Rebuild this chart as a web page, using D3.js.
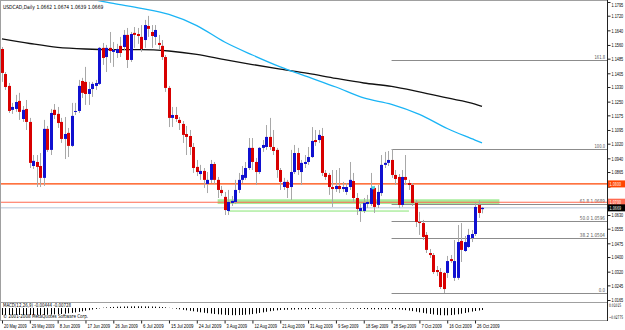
<!DOCTYPE html>
<html>
<head>
<meta charset="utf-8">
<script src="https://cdn.jsdelivr.net/npm/d3@7"></script>
<style>
  body { margin: 0; background: #fff; }
  svg { display: block; font-family: "Liberation Sans Narrow", "DejaVu Sans Condensed", "Liberation Sans", Arial, sans-serif; }
</style>
</head>
<body>
<svg id="chart" width="625" height="330"></svg>
<script>
// USDCAD daily, 20 May 2009 .. 28 Oct 2009 (broker with Sunday bars)
const symbolTitle = "USDCAD,Daily  1.0662 1.0674 1.0639 1.0669";
const indTitle = "MACD(12,26,9) -0.00444 -0.00728";
const copyright = "\u00a9 2001-2008 MetaQuotes Software Corp.";

// open, high, low, close
const ohlc = [
  [1.1538,1.1549,1.1358,1.1407],[1.1401,1.1412,1.1314,1.1330],[1.1336,1.1352,1.1188,1.1199],[1.1205,1.1243,1.1183,1.1221],
  [1.1210,1.1287,1.1194,1.1248],[1.1254,1.1298,1.1150,1.1194],[1.1155,1.1226,1.1139,1.1205],[1.1210,1.1259,1.1095,1.1139],
  [1.1139,1.1161,1.0887,1.0915],[1.0898,1.0958,1.0882,1.0926],[1.0920,1.0958,1.0783,1.0893],[1.0898,1.0969,1.0783,1.0833],
  [1.0833,1.1150,1.0789,1.1101],[1.1101,1.1117,1.0975,1.0986],[1.0986,1.1210,1.0958,1.1188],[1.1205,1.1237,1.1155,1.1177],
  [1.1183,1.1221,1.1106,1.1133],[1.1139,1.1161,1.1024,1.1046],[1.1046,1.1166,1.0936,1.1073],[1.1079,1.1106,1.0947,1.1008],
  [1.1008,1.1243,1.1002,1.1172],[1.1194,1.1243,1.1177,1.1199],[1.1199,1.1369,1.1188,1.1336],[1.1363,1.1380,1.1270,1.1298],
  [1.1358,1.1440,1.1232,1.1292],[1.1292,1.1358,1.1232,1.1319],[1.1319,1.1358,1.1276,1.1347],[1.1336,1.1369,1.1314,1.1352],
  [1.1347,1.1549,1.1341,1.1544],[1.1544,1.1571,1.1451,1.1489],[1.1494,1.1560,1.1412,1.1544],[1.1544,1.1631,1.1462,1.1527],
  [1.1522,1.1576,1.1440,1.1533],[1.1516,1.1566,1.1489,1.1538],[1.1555,1.1604,1.1494,1.1516],[1.1549,1.1642,1.1533,1.1615],
  [1.1615,1.1653,1.1434,1.1478],[1.1478,1.1631,1.1467,1.1620],[1.1626,1.1658,1.1544,1.1615],[1.1620,1.1653,1.1566,1.1609],
  [1.1604,1.1669,1.1522,1.1538],[1.1587,1.1697,1.1544,1.1669],[1.1664,1.1719,1.1604,1.1648],[1.1631,1.1669,1.1544,1.1609],
  [1.1604,1.1669,1.1560,1.1642],[1.1571,1.1615,1.1533,1.1560],[1.1555,1.1587,1.1478,1.1494],[1.1494,1.1505,1.1303,1.1325],
  [1.1325,1.1336,1.1111,1.1161],[1.1161,1.1221,1.1111,1.1177],[1.1177,1.1221,1.1139,1.1155],[1.1150,1.1166,1.1095,1.1133],
  [1.1128,1.1144,1.1024,1.1068],[1.1073,1.1117,1.0958,1.1057],[1.1062,1.1095,1.0958,1.1002],[1.1002,1.1024,1.0860,1.0887],
  [1.0893,1.0931,1.0843,1.0865],[1.0854,1.0904,1.0822,1.0871],[1.0871,1.0887,1.0778,1.0822],[1.0800,1.0865,1.0750,1.0822],
  [1.0822,1.0931,1.0805,1.0909],[1.0909,1.0920,1.0800,1.0822],[1.0822,1.0838,1.0723,1.0767],[1.0767,1.0789,1.0734,1.0750],
  [1.0729,1.0756,1.0630,1.0657],[1.0652,1.0767,1.0630,1.0701],[1.0696,1.0734,1.0679,1.0707],[1.0701,1.0822,1.0690,1.0767],
  [1.0767,1.0860,1.0750,1.0822],[1.0822,1.0898,1.0805,1.0849],[1.0833,1.0920,1.0822,1.0887],[1.0887,1.1051,1.0876,1.0997],
  [1.0997,1.1051,1.0876,1.0920],[1.0920,1.0942,1.0794,1.0865],[1.0865,1.1002,1.0854,1.0997],[1.0997,1.1040,1.0975,1.1013],
  [1.1002,1.1122,1.0986,1.1057],[1.1057,1.1161,1.0986,1.1002],[1.1002,1.1095,1.0958,1.0980],[1.0986,1.0997,1.0833,1.0876],
  [1.0876,1.0887,1.0767,1.0811],[1.0783,1.0833,1.0767,1.0811],[1.0811,1.0822,1.0723,1.0778],[1.0783,1.0986,1.0712,1.0865],
  [1.0865,1.1013,1.0854,1.0969],[1.0969,1.0997,1.0849,1.0876],[1.0865,1.0931,1.0794,1.0915],[1.0909,1.0958,1.0887,1.0920],
  [1.0920,1.1002,1.0904,1.0947],[1.0947,1.1111,1.0942,1.1035],[1.1040,1.1095,1.1008,1.1029],[1.1040,1.1095,1.1024,1.1068],
  [1.1062,1.1106,1.0843,1.0860],[1.0860,1.0876,1.0822,1.0838],[1.0849,1.0860,1.0740,1.0783],[1.0783,1.0876,1.0674,1.0772],
  [1.0772,1.0876,1.0756,1.0789],[1.0789,1.0887,1.0750,1.0772],[1.0772,1.0811,1.0756,1.0783],[1.0756,1.0805,1.0740,1.0783],
  [1.0783,1.0920,1.0767,1.0822],[1.0816,1.0860,1.0701,1.0723],[1.0723,1.0750,1.0630,1.0663],[1.0652,1.0690,1.0592,1.0668],
  [1.0652,1.0723,1.0641,1.0696],[1.0690,1.0740,1.0668,1.0701],[1.0690,1.0860,1.0679,1.0778],[1.0778,1.0789,1.0641,1.0674],
  [1.0685,1.0794,1.0668,1.0756],[1.0750,1.0958,1.0734,1.0904],[1.0904,1.0975,1.0887,1.0915],[1.0915,1.0980,1.0898,1.0931],
  [1.0931,1.0990,1.0833,1.0849],[1.0849,1.0876,1.0794,1.0827],[1.0838,1.0854,1.0668,1.0685],[1.0685,1.0876,1.0674,1.0838],
  [1.0838,1.0958,1.0794,1.0822],[1.0805,1.0822,1.0767,1.0794],[1.0794,1.0805,1.0679,1.0696],[1.0696,1.0712,1.0564,1.0592],
  [1.0592,1.0647,1.0521,1.0586],[1.0586,1.0603,1.0493,1.0510],[1.0521,1.0537,1.0422,1.0439],[1.0422,1.0444,1.0395,1.0411],
  [1.0411,1.0422,1.0307,1.0318],[1.0329,1.0351,1.0296,1.0318],[1.0318,1.0340,1.0225,1.0236],[1.0313,1.0318,1.0203,1.0225],
  [1.0313,1.0406,1.0286,1.0378],[1.0389,1.0411,1.0368,1.0378],[1.0286,1.0493,1.0269,1.0378],[1.0286,1.0575,1.0275,1.0482],
  [1.0488,1.0586,1.0373,1.0439],[1.0433,1.0515,1.0428,1.0482],[1.0455,1.0554,1.0450,1.0521],[1.0504,1.0548,1.0482,1.0526],
  [1.0526,1.0696,1.0515,1.0674],[1.0685,1.0712,1.0614,1.0641],[1.0662,1.0674,1.0639,1.0669]
];

// moving averages, read at every 8th bar
const maIdx = [0, 8, 16, 24, 32, 40, 48, 56, 64, 72, 80, 88, 96, 104, 112, 120, 128, 136, 138];
const maBlack = [1.1593, 1.1568, 1.1547, 1.1538, 1.1535, 1.1535, 1.1527, 1.1508, 1.1480, 1.1453, 1.1428, 1.1404, 1.1377, 1.1352, 1.1333, 1.1303, 1.1270, 1.1237, 1.1224];
const maBlue  = [null, null, null, 1.1817, 1.1787, 1.1760, 1.1727, 1.1666, 1.1576, 1.1505, 1.1440, 1.1385, 1.1330, 1.1270, 1.1235, 1.1180, 1.1103, 1.1040, 1.1024];

// MACD histogram, one per bar
const macd = [
  -0.0175,-0.0175,-0.0175,-0.0175,-0.0175,-0.0175,-0.0175,-0.0175,-0.0175,-0.0175,-0.0175,-0.0175,
  -0.0175,-0.0170,-0.0165,-0.0160,-0.0155,-0.0150,-0.0143,
  -0.0133,-0.0123,-0.0110,-0.0098,-0.0083,-0.0068,-0.0053,-0.0038,-0.0023,-0.0010,
  0.0008,0.0015,0.0023,0.0028,0.0033,0.0035,0.0038,0.0040,0.0040,0.0043,0.0043,0.0043,0.0040,0.0040,0.0038,0.0035,0.0030,0.0025,0.0018,
  0.0005,-0.0008,-0.0020,-0.0033,-0.0045,-0.0058,-0.0070,-0.0083,-0.0095,-0.0108,-0.0120,-0.0130,-0.0140,-0.0150,-0.0158,-0.0165,-0.0173,-0.0178,-0.0180,-0.0180,-0.0178,-0.0175,-0.0170,
  -0.0163,-0.0153,-0.0140,-0.0125,-0.0110,-0.0095,-0.0080,-0.0068,-0.0058,-0.0050,
  -0.0045,-0.0043,-0.0040,-0.0038,-0.0035,-0.0033,-0.0030,-0.0028,-0.0025,-0.0023,-0.0020,-0.0018,-0.0015,-0.0013,-0.0013,
  -0.0013,-0.0013,-0.0013,-0.0015,-0.0015,-0.0018,-0.0020,-0.0023,-0.0025,-0.0028,-0.0030,-0.0033,-0.0033,-0.0033,-0.0030,
  -0.0028,-0.0028,-0.0030,-0.0035,-0.0043,-0.0053,-0.0065,-0.0078,-0.0093,-0.0108,-0.0123,-0.0138,-0.0150,-0.0163,
  -0.0173,-0.0180,-0.0183,-0.0183,-0.0178,-0.0170,-0.0158,-0.0143,-0.0125,-0.0108,-0.0090,-0.0075,-0.0063,-0.0050
];

const priceTicks = [1.1795, 1.1720, 1.1640, 1.1560, 1.1485, 1.1405, 1.1330, 1.1250, 1.1175, 1.1095, 1.1020, 1.0940,
                    1.0865, 1.0785, 1.0710, 1.0630, 1.0555, 1.0475, 1.0400, 1.0320, 1.0245, 1.0165];
const macdTicks = [0.01015, -0.02775];

const dateIdx = [0, 8, 16, 24, 32, 40, 48, 56, 64, 72, 80, 88, 96, 104, 112, 120, 128, 136];
const dateLabels = ["20 May 2009", "29 May 2009", "8 Jun 2009", "17 Jun 2009", "26 Jun 2009", "6 Jul 2009",
  "15 Jul 2009", "24 Jul 2009", "3 Aug 2009", "12 Aug 2009", "21 Aug 2009", "31 Aug 2009", "9 Sep 2009",
  "18 Sep 2009", "28 Sep 2009", "7 Oct 2009", "16 Oct 2009", "26 Oct 2009"];

// objects drawn on the chart
const hLines = [1.0800, 1.0700];
const bid = 1.0669;
const zoneMain = {i0: 62, i1: 143, p0: 1.0690, p1: 1.0716};
const zoneLow  = {i0: 65, i1: 117, p0: 1.0647, p1: 1.0656};
const fibHigh = {i: 112, p: 1.0990};
const fibLow  = {i: 127, p: 1.0203};
const fibLevels = [0, 0.382, 0.5, 0.618, 1, 1.618];
const marker = {i: 106.7, p: 1.0779};

const W = 625, H = 330;
const plot = {left: 1, right: 607, top: 1, bottom: 302};
const sub = {top: 303, bottom: 320};
const FS = 5.4;

const svg = d3.select("#chart");

// narrow the text about its anchor x when the font runs wider than the terminal one
function fitTo(sel, perChar) {
  sel.each(function() {
    const len = this.getComputedTextLength();
    const max = this.textContent.length * perChar;
    if (len > max) {
      const k = max / len;
      const a = +this.getAttribute("x") || 0;
      d3.select(this).attr("transform", `matrix(${k},0,0,1,${a * (1 - k)},0)`);
    }
  });
}

const x = d3.scaleLinear().domain([0, 138]).range([2, 482]);
const y = d3.scaleLinear().domain([1.0165, 1.1795]).range([300, 2]);
const ym = d3.scaleLinear().domain([-0.02775, 0.01015]).range([319, 304]);

svg.append("rect").attr("width", W).attr("height", H).attr("fill", "#fff");

svg.append("clipPath").attr("id", "clipMain")
  .append("rect").attr("x", plot.left).attr("y", plot.top)
  .attr("width", plot.right - plot.left).attr("height", plot.bottom - plot.top);

const main = svg.append("g").attr("clip-path", "url(#clipMain)");

// green zones
[zoneMain, zoneLow].forEach((z, k) => {
  main.append("rect")
    .attr("x", x(z.i0)).attr("width", x(z.i1) - x(z.i0))
    .attr("y", y(z.p1)).attr("height", y(z.p0) - y(z.p1))
    .attr("fill", k === 0 ? "#a6ec9a" : "#b6f0aa");
});

// fibo levels
const fibRange = fibHigh.p - fibLow.p;
fibLevels.forEach(l => {
  const p = fibLow.p + l * fibRange;
  main.append("line")
    .attr("x1", x(fibHigh.i)).attr("x2", plot.right)
    .attr("y1", Math.round(y(p)) + 0.5).attr("y2", Math.round(y(p)) + 0.5)
    .attr("stroke", "#8c8c8c").attr("stroke-width", 1);
  const txt = (l * 100).toFixed(1) + (l > 0 && l < 1 ? "  " + p.toFixed(4) : "");
  main.append("text")
    .attr("x", plot.right - 2).attr("y", y(p) - 1.5)
    .attr("text-anchor", "end").attr("font-size", FS).attr("fill", "#555")
    .text(txt).call(fitTo, 2.1);
});

// horizontal lines
hLines.forEach((p, k) => {
  main.append("line")
    .attr("x1", plot.left).attr("x2", plot.right)
    .attr("y1", y(p)).attr("y2", y(p))
    .attr("stroke", k === 0 ? "#ff4500" : "#ff6a50").attr("stroke-width", k === 0 ? 1.4 : 1.1);
});
main.append("line")
  .attr("x1", plot.left).attr("x2", plot.right)
  .attr("y1", y(bid)).attr("y2", y(bid))
  .attr("stroke", "#b4c4d8").attr("stroke-width", 1);

// moving averages
const maLine = vals => d3.line()
  .defined(d => d[1] != null)
  .x(d => x(d[0])).y(d => y(d[1]))
  .curve(d3.curveMonotoneX)(maIdx.map((i, k) => [i, vals[k]]));

main.append("path").attr("d", maLine(maBlack))
  .attr("fill", "none").attr("stroke", "#111").attr("stroke-width", 1.3);
main.append("path").attr("d", maLine(maBlue))
  .attr("fill", "none").attr("stroke", "#1ab4f5").attr("stroke-width", 1.3);

// candles
const candles = main.append("g");
candles.selectAll("line.wick").data(ohlc).join("line")
  .attr("class", "wick")
  .attr("x1", (d, i) => Math.round(x(i)) + 0.5).attr("x2", (d, i) => Math.round(x(i)) + 0.5)
  .attr("y1", d => y(d[1])).attr("y2", d => y(d[2]))
  .attr("stroke", "#a8a8a8").attr("stroke-width", 1);

candles.selectAll("rect.body").data(ohlc).join("rect")
  .attr("class", "body")
  .attr("x", (d, i) => Math.round(x(i)) - 1)
  .attr("width", 3)
  .attr("y", d => y(Math.max(d[0], d[3])))
  .attr("height", d => Math.max(1, Math.abs(y(d[0]) - y(d[3]))))
  .attr("fill", d => d[3] >= d[0] ? "#1010d0" : "#d80000");

main.append("rect")
  .attr("x", x(marker.i) - 1.5).attr("y", y(marker.p) - 1.5)
  .attr("width", 3).attr("height", 3).attr("fill", "#33dde8");

// frame
const frame = svg.append("g").attr("stroke", "#a0a0a0").attr("stroke-width", 1).attr("fill", "none");
frame.append("line").attr("x1", 0).attr("x2", plot.right + 0.5).attr("y1", 0.5).attr("y2", 0.5);
frame.append("line").attr("x1", 0.5).attr("x2", 0.5).attr("y1", 0).attr("y2", sub.bottom);
frame.append("line").attr("x1", 0).attr("x2", plot.right).attr("y1", plot.bottom + 0.5).attr("y2", plot.bottom + 0.5);
frame.append("line").attr("x1", 0).attr("x2", plot.right).attr("y1", sub.bottom + 0.5).attr("y2", sub.bottom + 0.5);
svg.append("line").attr("x1", plot.right + 0.5).attr("x2", plot.right + 0.5)
  .attr("y1", 0).attr("y2", sub.bottom + 1).attr("stroke", "#222");

// price tags for lines
const tags = [
  {p: hLines[0], bg: "#ff4500"},
  {p: hLines[1], bg: "#ff6a50"},
  {p: bid, bg: "#000"}
];

// price axis (labels hidden where a tag sits on top)
const yAxis = svg.append("g")
  .attr("transform", `translate(${plot.right + 0.5},0)`)
  .call(d3.axisRight(y).tickValues(priceTicks).tickFormat(d3.format(".4f")).tickSize(3).tickPadding(1));
yAxis.select(".domain").remove();
yAxis.selectAll("line").attr("stroke", "#222");
yAxis.selectAll("text").attr("font-size", FS).attr("fill", "#000")
  .attr("dy", d => y(d) < 4 ? "0.75em" : "0.35em")
  .style("display", d => tags.some(t => Math.abs(y(t.p) - y(d)) < 6) ? "none" : null)
  .call(fitTo, 1.95);

tags.forEach(t => {
  svg.append("rect").attr("x", plot.right + 1).attr("y", y(t.p) - 3.5)
    .attr("width", W - plot.right - 1).attr("height", 7).attr("fill", t.bg);
  svg.append("text").attr("x", plot.right + 2.5).attr("y", y(t.p) + 2)
    .attr("font-size", FS).attr("fill", "#fff").text(t.p.toFixed(4)).call(fitTo, 1.95);
});

// MACD sub window
const subG = svg.append("g");
subG.selectAll("line").data(macd).join("line")
  .attr("x1", (d, i) => Math.round(x(i)) + 0.5).attr("x2", (d, i) => Math.round(x(i)) + 0.5)
  .attr("y1", ym(0)).attr("y2", d => ym(d))
  .attr("stroke", "#000").attr("stroke-width", 1);

svg.append("g").selectAll("text").data(macdTicks).join("text")
  .attr("x", plot.right + 2)
  .attr("y", (d, k) => k === 0 ? 307.5 : 319.5)
  .attr("font-size", FS - 0.6).attr("fill", "#000")
  .text(d => d3.format(".5f")(d)).call(fitTo, 1.75);

svg.append("text").attr("x", 3).attr("y", 307.5).attr("font-size", FS).attr("fill", "#000")
  .text(indTitle).call(fitTo, 2.2);
svg.append("text").attr("x", 3).attr("y", 318.5).attr("font-size", FS).attr("fill", "#000")
  .text(copyright).call(fitTo, 2.3);

// date axis
const xAxis = svg.append("g")
  .attr("transform", `translate(0,${sub.bottom + 0.5})`)
  .call(d3.axisBottom(x).tickValues(dateIdx).tickFormat((d, k) => dateLabels[k]).tickSize(3).tickPadding(1));
xAxis.select(".domain").remove();
xAxis.selectAll("line").attr("stroke", "#222");
xAxis.selectAll("text").attr("font-size", FS).attr("fill", "#000")
  .attr("text-anchor", "start").attr("x", 1.5).call(fitTo, 2.05);

// title
svg.append("text").attr("x", 3).attr("y", 9).attr("font-size", FS + 0.2).attr("fill", "#000")
  .text(symbolTitle).call(fitTo, 2.45);
</script>
</body>
</html>
